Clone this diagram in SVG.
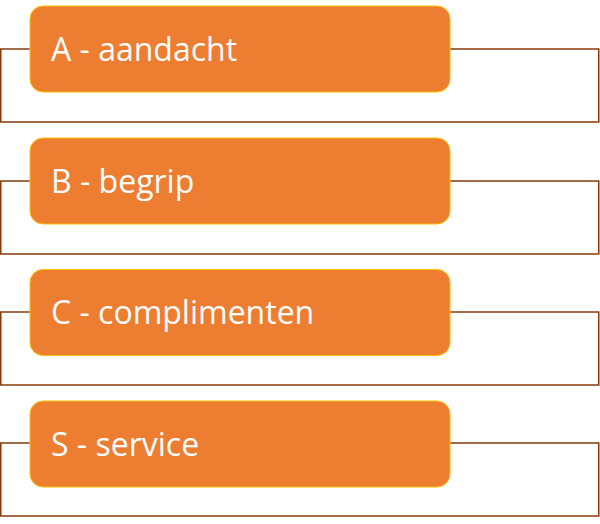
<svg xmlns="http://www.w3.org/2000/svg" width="600" height="524" viewBox="0 0 600 524">
<style>
.frame{fill:#fff;stroke:#843C0C;stroke-width:1.5}
.box{fill:#ED7D31;stroke:#FFC000;stroke-width:1}
.lbl{fill:#fff;font-family:"Open Sans","Noto Sans",sans-serif;font-size:32px}
</style>
<rect width="600" height="524" fill="#fff"/>
<g id="connectors"/>
<g id="node-a">
<rect class="frame" x="0.75" y="49" width="598" height="73"/>
<rect class="box" x="30" y="6" width="420" height="86" rx="13"/>
<text class="lbl" x="51" y="61">A - aandacht</text>
</g>
<g id="node-b">
<rect class="frame" x="0.75" y="181" width="598" height="73"/>
<rect class="box" x="30" y="138" width="420" height="86" rx="13"/>
<text class="lbl" x="51" y="193">B - begrip</text>
</g>
<g id="node-c">
<rect class="frame" x="0.75" y="312" width="598" height="73"/>
<rect class="box" x="30" y="269.5" width="420" height="86" rx="13"/>
<text class="lbl" x="51" y="324">C - complimenten</text>
</g>
<g id="node-s">
<rect class="frame" x="0.75" y="443" width="598" height="73"/>
<rect class="box" x="30" y="401" width="420" height="86" rx="13"/>
<text class="lbl" x="51" y="456">S - service</text>
</g>
</svg>
